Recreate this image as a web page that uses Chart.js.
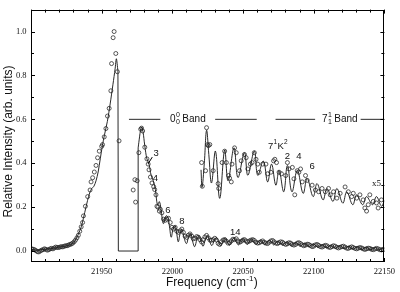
<!DOCTYPE html>
<html>
<head>
<meta charset="utf-8">
<script src="https://cdn.jsdelivr.net/npm/chart.js@4.4.0/dist/chart.umd.min.js"></script>
<style>
html, body { margin: 0; padding: 0; background: #fff; }
canvas { display: block; }
</style>
</head>
<body>
<canvas id="mycanvas" width="400" height="292"></canvas>
<script>
// tick labels
var xTickValues = [21950, 22000, 22050, 22100, 22150];
var yTickValues = [0.0, 0.2, 0.4, 0.6, 0.8, 1.0];

// 0-0 band, measured points (circles)
var expFreq = [21900.5, 21901.5, 21902.5, 21903.5, 21904.5, 21905.5, 21906.5, 21907.5, 21908.5, 21909.5,
  21910.5, 21911.5, 21912.5, 21913.5, 21914.5, 21915.5, 21916.5, 21917.5, 21918.5, 21919.5,
  21920.5, 21921.5, 21922.5, 21923.5, 21924.5, 21925.5, 21926.5, 21927.5, 21928.5, 21929.5,
  21930.5, 21931.5, 21932.5, 21933.5, 21934.5, 21935.5, 21936.5, 21937.1, 21938.5, 21940.1,
  21941.8, 21942.5, 21943.6, 21944.8, 21946.0, 21947.1, 21948.3, 21950.0, 21950.6, 21951.8,
  21953.0, 21954.1, 21955.3, 21956.5, 21957.0, 21958.1, 21958.8, 21960.0, 21961.1, 21962.3,
  21972.3, 21973.5, 21974.0, 21975.1, 21976.3,
  21977.6, 21978.2, 21979.0, 21980.5, 21982.0, 21982.9, 21983.5, 21984.5, 21985.6, 21986.8,
  21987.5, 21988.4, 21989.1, 21989.8, 21990.8, 21991.5, 21992.6, 21993.8, 21995.0, 21996.1,
  21997.3, 21998.5,
  21999.7, 22000.8, 22002.0, 22003.2, 22004.3, 22005.5, 22006.7, 22007.8, 22009.0, 22010.2,
  22011.3, 22012.5, 22013.7, 22014.8, 22016.0, 22017.2, 22018.3, 22019.5, 22020.7, 22021.9,
  22023.0, 22024.2, 22025.4, 22026.6, 22027.7, 22028.9, 22030.0, 22031.2, 22032.4, 22033.5,
  22034.7, 22035.9, 22037.0, 22038.2, 22039.4, 22040.6, 22041.7, 22042.9, 22044.0, 22045.2,
  22046.4, 22047.6, 22048.7, 22049.9, 22051.0, 22052.2, 22053.4, 22054.6, 22055.7, 22056.9,
  22058.0, 22059.2, 22060.4, 22061.5, 22062.7, 22063.9, 22065.0, 22066.2, 22067.4, 22068.5,
  22069.7, 22070.9, 22072.0, 22073.2, 22074.4, 22075.5, 22076.7, 22077.9, 22079.0, 22080.2,
  22081.4, 22082.5, 22083.7, 22084.9, 22086.0, 22087.2, 22088.4, 22089.5, 22090.7, 22091.9,
  22093.0, 22094.2, 22095.4, 22096.5, 22097.7, 22098.9, 22100.0, 22101.2, 22102.4, 22103.5,
  22104.7, 22105.9, 22107.0, 22108.2, 22109.4, 22110.5, 22111.7, 22112.9, 22114.0, 22115.2,
  22116.4, 22117.5, 22118.7, 22119.9, 22121.0, 22122.2, 22123.4, 22124.5, 22125.7, 22126.9,
  22128.0, 22129.2, 22130.4, 22131.5, 22132.7, 22133.9, 22135.0, 22136.2, 22137.4, 22138.6,
  22139.7, 22140.9, 22142.1, 22143.3, 22144.4, 22145.6, 22146.8, 22147.9, 22149.1];
var expInt = [0.010, 0.008, 0.006, 0.002, -0.003, -0.004, 0.000, 0.004, 0.006, 0.010,
  0.008, 0.004, 0.006, 0.010, 0.012, 0.010, 0.014, 0.018, 0.016, 0.016,
  0.018, 0.020, 0.019, 0.022, 0.024, 0.024, 0.027, 0.030, 0.032, 0.036,
  0.042, 0.050, 0.060, 0.072, 0.090, 0.110, 0.130, 0.160, 0.204, 0.248,
  0.278, 0.315, 0.334, 0.360, 0.390, 0.425, 0.455, 0.477, 0.485, 0.520,
  0.558, 0.615, 0.650, 0.730, 0.854, 0.972, 1.000, 0.900, 0.817, 0.502,
  0.278, 0.325, 0.223, 0.320, 0.448,
  0.555, 0.560, 0.547, 0.473, 0.420, 0.396, 0.370, 0.337, 0.310, 0.293,
  0.280, 0.256, 0.204, 0.200, 0.182, 0.190, 0.174, 0.145, 0.140, 0.145,
  0.149, 0.130,
  0.108, 0.100, 0.108, 0.090, 0.085, 0.092, 0.100, 0.085, 0.068, 0.062,
  0.072, 0.078, 0.068, 0.056, 0.058, 0.066, 0.063, 0.052, 0.041, 0.052,
  0.064, 0.071, 0.060, 0.050, 0.049, 0.052, 0.058, 0.050, 0.035, 0.030,
  0.042, 0.050, 0.052, 0.045, 0.036, 0.038, 0.046, 0.054, 0.052, 0.056,
  0.046, 0.040, 0.044, 0.050, 0.052, 0.046, 0.042, 0.046, 0.050, 0.052,
  0.048, 0.040, 0.036, 0.038, 0.042, 0.046, 0.040, 0.036, 0.034, 0.040,
  0.046, 0.048, 0.042, 0.036, 0.034, 0.038, 0.042, 0.040, 0.034, 0.030,
  0.033, 0.038, 0.036, 0.030, 0.027, 0.030, 0.036, 0.038, 0.034, 0.028,
  0.024, 0.027, 0.031, 0.030, 0.025, 0.020, 0.022, 0.028, 0.030, 0.026,
  0.020, 0.018, 0.022, 0.026, 0.024, 0.018, 0.016, 0.020, 0.024, 0.022,
  0.017, 0.014, 0.017, 0.020, 0.022, 0.018, 0.013, 0.012, 0.016, 0.019,
  0.016, 0.012, 0.010, 0.013, 0.016, 0.014, 0.010, 0.007, 0.010, 0.013,
  0.012, 0.008, 0.006, 0.009, 0.012, 0.010, 0.006, 0.005, 0.008];

// 0-0 band, simulation (solid line): rise, gap, decay
var simRiseFreq = [21900, 21904, 21908, 21912, 21916, 21920, 21924, 21927, 21929, 21931,
  21933, 21935, 21936, 21938, 21940, 21941.5, 21943, 21944.5, 21946, 21947.5,
  21949, 21950.5, 21952, 21954, 21956, 21958, 21959.5, 21960.4, 21961.5];
var simRiseInt = [0.008, 0.004, 0.007, 0.009, 0.013, 0.018, 0.022, 0.027, 0.033, 0.046,
  0.070, 0.100, 0.120, 0.175, 0.230, 0.265, 0.285, 0.295, 0.320, 0.360,
  0.420, 0.480, 0.530, 0.590, 0.670, 0.760, 0.830, 0.876, 0.820];

var gapFreq = [21961.5, 21961.8, 21975.8, 21975.8];
var gapInt = [0.820, 0.0, 0.0, 0.470];

var simDecayFreq = [21975.8, 21976.8, 21977.5, 21978.3, 21979.2, 21980.5, 21982.0, 21983.5, 21985.0, 21986.5,
  21988.0, 21989.5, 21990.8, 21992.0, 21993.6, 21995.5, 21996.8, 21998.0, 21999.2, 22000.5,
  22002.0, 22003.2, 22004.2, 22005.5, 22006.8, 22008.3, 22010.0, 22011.5, 22013.0, 22014.5,
  22015.8, 22017.5, 22019.0, 22020.5, 22021.8, 22023.5, 22025.0, 22026.5, 22028.0, 22029.8,
  22031.3, 22032.8, 22034.3, 22036.0, 22037.5, 22039.0, 22040.5, 22042.3, 22043.8, 22045.3,
  22046.8, 22048.5, 22050.0, 22051.5, 22053.0, 22054.8, 22056.3, 22057.8, 22059.3, 22061.0,
  22062.5, 22064.0, 22065.5, 22067.2, 22068.8, 22070.3, 22071.8, 22073.5, 22075.0, 22076.5,
  22078.0, 22079.7, 22081.2, 22082.7, 22084.2, 22086.0, 22087.5, 22089.0, 22090.5, 22092.2,
  22093.7, 22095.2, 22096.7, 22098.4, 22100.0, 22101.5, 22103.0, 22104.7, 22106.2, 22107.7,
  22109.2, 22111.0, 22112.5, 22114.0, 22115.5, 22117.2, 22118.7, 22120.2, 22121.7, 22123.4,
  22125.0, 22126.5, 22128.0, 22129.7, 22131.2, 22132.7, 22134.2, 22136.0, 22137.5, 22139.0,
  22140.5, 22142.2, 22143.7, 22145.2, 22146.7, 22148.4, 22150.0];
var simDecayInt = [0.470, 0.520, 0.550, 0.565, 0.545, 0.480, 0.420, 0.395, 0.345, 0.320,
  0.280, 0.210, 0.225, 0.190, 0.125, 0.160, 0.155, 0.110, 0.063, 0.100,
  0.115, 0.075, 0.042, 0.080, 0.100, 0.060, 0.034, 0.065, 0.080, 0.040,
  0.020, 0.055, 0.070, 0.040, 0.022, 0.055, 0.070, 0.042, 0.025, 0.050,
  0.062, 0.040, 0.024, 0.048, 0.060, 0.040, 0.026, 0.050, 0.058, 0.040,
  0.028, 0.048, 0.056, 0.040, 0.030, 0.046, 0.054, 0.040, 0.030, 0.044,
  0.050, 0.038, 0.029, 0.042, 0.048, 0.036, 0.028, 0.040, 0.045, 0.034,
  0.026, 0.037, 0.042, 0.031, 0.023, 0.034, 0.039, 0.029, 0.021, 0.031,
  0.036, 0.026, 0.019, 0.028, 0.033, 0.023, 0.016, 0.025, 0.030, 0.020,
  0.014, 0.022, 0.027, 0.018, 0.012, 0.020, 0.024, 0.016, 0.010, 0.018,
  0.022, 0.014, 0.009, 0.016, 0.020, 0.012, 0.007, 0.014, 0.018, 0.010,
  0.006, 0.012, 0.016, 0.009, 0.005, 0.010, 0.012];

// 7-1 band, x5 and offset (upper trace)
var insetExpFreq = [22020.7, 22021.2, 22023.5, 22024.2, 22024.9, 22025.5, 22026.5, 22028.9, 22032.4, 22032.8,
  22035.2, 22037.0, 22038.2, 22039.8, 22040.5, 22041.7, 22042.2, 22044.0, 22045.2, 22047.5,
  22048.7, 22051.0, 22052.2, 22053.4, 22055.2, 22056.4, 22058.0, 22059.2, 22060.4, 22061.5,
  22063.9, 22066.2, 22067.4, 22069.7, 22071.6, 22072.5, 22073.7, 22075.5, 22077.2, 22080.2,
  22081.4, 22082.5, 22084.9, 22086.0, 22086.6, 22088.4, 22089.5, 22090.7, 22091.9, 22094.2,
  22095.4, 22098.9, 22101.2, 22103.5, 22105.9, 22108.2, 22110.5, 22111.7, 22114.0, 22116.4,
  22118.7, 22122.2, 22124.5, 22126.9, 22128.0, 22130.4, 22132.7, 22135.0, 22136.2, 22137.4,
  22138.6, 22139.7, 22142.1, 22144.4, 22145.6, 22147.9];
var insetExpInt = [0.403, 0.295, 0.366, 0.562, 0.485, 0.480, 0.485, 0.366, 0.307, 0.285,
  0.403, 0.455, 0.403, 0.344, 0.332, 0.315, 0.396, 0.470, 0.448, 0.366,
  0.411, 0.440, 0.425, 0.374, 0.396, 0.403, 0.448, 0.418, 0.396, 0.359,
  0.396, 0.396, 0.352, 0.359, 0.411, 0.418, 0.403, 0.359, 0.352, 0.344,
  0.403, 0.374, 0.381, 0.329, 0.256, 0.366, 0.359, 0.374, 0.315, 0.344,
  0.322, 0.300, 0.278, 0.270, 0.285, 0.270, 0.285, 0.256, 0.270, 0.241,
  0.263, 0.292, 0.270, 0.248, 0.263, 0.241, 0.256, 0.233, 0.196, 0.182,
  0.211, 0.256, 0.226, 0.219, 0.196, 0.233];

var insetSimFreq = [22020.3, 22021.0, 22022.6, 22024.2, 22025.8, 22027.7, 22030.5, 22033.5, 22037.0, 22039.4,
  22043.6, 22046.4, 22051.0, 22053.4, 22058.0, 22060.4, 22064.4, 22067.4, 22070.2, 22073.2,
  22075.5, 22078.8, 22081.4, 22084.6, 22088.4, 22092.5, 22095.4, 22099.6, 22102.4, 22106.6,
  22109.4, 22113.6, 22116.4, 22120.6, 22123.4, 22127.6, 22130.4, 22134.6, 22137.4, 22141.6,
  22144.4, 22148.0, 22150.0];
var insetSimInt = [0.370, 0.290, 0.400, 0.550, 0.440, 0.310, 0.455, 0.240, 0.460, 0.320,
  0.470, 0.335, 0.448, 0.345, 0.455, 0.345, 0.410, 0.315, 0.396, 0.300,
  0.367, 0.270, 0.390, 0.270, 0.367, 0.263, 0.330, 0.248, 0.307, 0.233,
  0.285, 0.226, 0.285, 0.218, 0.270, 0.211, 0.256, 0.211, 0.248, 0.211,
  0.248, 0.204, 0.230];

// band marker segments at 0.6
var bandLevel = 0.6;
var bandSegments = [[21969.3, 21991.5], [22030.3, 22059.7], [22073.0, 22101.0], [22133.2, 22150.0]];

// peak numbers [text, freq, intensity]
var peakLabels = [['3', 21988.5, 0.445], ['4', 21988.0, 0.329], ['6', 21996.8, 0.186], ['8', 22006.7, 0.133],
  ['14', 22044.5, 0.086], ['2', 22081.4, 0.432], ['4', 22089.6, 0.432], ['6', 22098.9, 0.386]];

function pairs(xs, ys) {
  var out = [];
  for (var i = 0; i < xs.length; i++) out.push({x: xs[i], y: ys[i]});
  return out;
}

var bandData = [];
for (var i = 0; i < bandSegments.length; i++) {
  bandData.push({x: bandSegments[i][0], y: bandLevel});
  bandData.push({x: bandSegments[i][1], y: bandLevel});
  bandData.push({x: bandSegments[i][1] + 0.1, y: null});
}

function lineSet(data, tension) {
  return {
    data: data, showLine: true, borderColor: '#111', borderWidth: 0.9,
    pointRadius: 0, tension: tension, spanGaps: false
  };
}
function circleSet(data) {
  return {
    data: data, showLine: false, pointStyle: 'circle', pointRadius: 2,
    pointBorderWidth: 0.75, pointBorderColor: '#222', pointBackgroundColor: 'rgba(0,0,0,0)'
  };
}

function drawSubSup(ctx, main, sup, sub, rest, cx, cy, size) {
  var big = size + 'px "Liberation Sans", Arial, sans-serif';
  var small = Math.round(size * 0.68) + 'px "Liberation Sans", Arial, sans-serif';
  ctx.font = big; var w0 = ctx.measureText(main).width; var wr = ctx.measureText(rest).width;
  ctx.font = small; var ws = Math.max(ctx.measureText(sup).width, ctx.measureText(sub).width);
  var x = cx - (w0 + ws + wr) / 2;
  ctx.textAlign = 'left'; ctx.textBaseline = 'middle';
  ctx.font = big; ctx.fillText(main, x, cy);
  ctx.font = small;
  ctx.fillText(sup, x + w0 + 0.3, cy - 4);
  ctx.fillText(sub, x + w0 + 0.3, cy + 3);
  ctx.font = big; ctx.fillText(rest, x + w0 + ws, cy);
}

var decor = {
  id: 'decor',
  afterDraw: function(chart) {
    var ctx = chart.ctx, a = chart.chartArea;
    var sx = chart.scales.x, sy = chart.scales.y;
    ctx.save();
    ctx.strokeStyle = '#000';
    ctx.lineWidth = 1;
    ctx.strokeRect(Math.round(a.left) + 0.5, Math.round(a.top) + 0.5,
      Math.round(a.right - a.left) - 1, Math.round(a.bottom - a.top) - 1);
    ctx.beginPath();
    for (var v = 21900; v <= 22150; v += 10) {
      var px = Math.round(sx.getPixelForValue(v)) + 0.5;
      var len = (v % 50 === 0) ? 4 : 3;
      ctx.moveTo(px, a.bottom); ctx.lineTo(px, a.bottom - len);
      ctx.moveTo(px, a.top); ctx.lineTo(px, a.top + len);
    }
    for (var k = 0; k <= 11; k++) {
      var py = Math.round(sy.getPixelForValue(k / 10)) + 0.5;
      var l2 = (k % 2 === 0) ? 4 : 3;
      ctx.moveTo(a.left, py); ctx.lineTo(a.left + l2, py);
      ctx.moveTo(a.right, py); ctx.lineTo(a.right - l2, py);
    }
    // leader line for peak 3
    ctx.moveTo(sx.getPixelForValue(21982.9), sy.getPixelForValue(0.398));
    ctx.lineTo(sx.getPixelForValue(21985.8), sy.getPixelForValue(0.428));
    ctx.stroke();

    ctx.fillStyle = '#111';
    // peak numbers
    ctx.font = '9.5px "Liberation Sans", Arial, sans-serif';
    ctx.textAlign = 'center'; ctx.textBaseline = 'middle';
    peakLabels.forEach(function(p) {
      ctx.fillText(p[0], sx.getPixelForValue(p[1]), sy.getPixelForValue(p[2]));
    });
    // x5
    ctx.font = '9px "Liberation Serif", "Times New Roman", serif';
    ctx.fillText('x5', sx.getPixelForValue(22144.5), sy.getPixelForValue(0.307));

    // band labels
    drawSubSup(ctx, '0', '0', '0', ' Band', sx.getPixelForValue(22011.0), sy.getPixelForValue(bandLevel), 10);
    drawSubSup(ctx, '7', '1', '1', ' Band', sx.getPixelForValue(22118.5), sy.getPixelForValue(bandLevel), 10);

    // 7^1 K^2
    var kx = sx.getPixelForValue(22067.6), ky = sy.getPixelForValue(0.478);
    ctx.textAlign = 'left';
    ctx.font = '9.5px "Liberation Sans", Arial, sans-serif';
    ctx.fillText('7', kx, ky);
    var w7 = ctx.measureText('7').width;
    ctx.font = '6.5px "Liberation Sans", Arial, sans-serif';
    ctx.fillText('1', kx + w7 + 0.3, ky - 3.5);
    var w1 = ctx.measureText('1').width;
    ctx.font = '9.5px "Liberation Sans", Arial, sans-serif';
    ctx.fillText('K', kx + w7 + w1 + 0.6, ky);
    var wk = ctx.measureText('K').width;
    ctx.font = '6.5px "Liberation Sans", Arial, sans-serif';
    ctx.fillText('2', kx + w7 + w1 + wk + 0.9, ky - 3.5);

    // axis titles
    ctx.font = '12px "Liberation Sans", Arial, sans-serif';
    ctx.textAlign = 'center'; ctx.textBaseline = 'middle';
    ctx.save();
    ctx.translate(8.5, 141.5);
    ctx.rotate(-Math.PI / 2);
    ctx.fillText('Relative Intensity (arb. units)', 0, 0);
    ctx.restore();

    var t1 = 'Frequency (cm', t2 = '-1', t3 = ')';
    ctx.font = '12px "Liberation Sans", Arial, sans-serif';
    var a1 = ctx.measureText(t1).width, a3 = ctx.measureText(t3).width;
    ctx.font = '8px "Liberation Sans", Arial, sans-serif';
    var a2 = ctx.measureText(t2).width;
    var tx = 211.5 - (a1 + a2 + a3) / 2, ty = 283;
    ctx.textAlign = 'left';
    ctx.font = '12px "Liberation Sans", Arial, sans-serif';
    ctx.fillText(t1, tx, ty);
    ctx.font = '8px "Liberation Sans", Arial, sans-serif';
    ctx.fillText(t2, tx + a1 + 0.3, ty - 4.5);
    ctx.font = '12px "Liberation Sans", Arial, sans-serif';
    ctx.fillText(t3, tx + a1 + a2 + 0.6, ty);
    ctx.restore();
  }
};

var ctx = document.getElementById('mycanvas');

var spectrum = new Chart(ctx, {
  type: 'scatter',
  data: {
    datasets: [
      circleSet(pairs(expFreq, expInt)),
      circleSet(pairs(insetExpFreq, insetExpInt)),
      lineSet(pairs(simRiseFreq, simRiseInt), 0.3),
      lineSet(pairs(gapFreq, gapInt), 0),
      lineSet(pairs(simDecayFreq, simDecayInt), 0.4),
      lineSet(pairs(insetSimFreq, insetSimInt), 0.4),
      lineSet(bandData, 0)
    ]
  },
  options: {
    responsive: false,
    animation: false,
    devicePixelRatio: 1,
    layout: { padding: { top: 3, right: 13, left: 0, bottom: 0 } },
    plugins: { legend: { display: false }, tooltip: { enabled: false } },
    scales: {
      x: {
        type: 'linear', min: 21900, max: 22150,
        grid: { display: false, drawTicks: false },
        border: { display: false },
        afterBuildTicks: function(s) { s.ticks = xTickValues.map(function(v) { return {value: v}; }); },
        afterFit: function(s) { s.height = 30; },
        ticks: {
          autoSkip: false, maxRotation: 0, padding: 5, color: '#111',
          font: { family: '"Liberation Serif", "Times New Roman", serif', size: 8.5 },
          callback: function(v) { return String(v); }
        }
      },
      y: {
        type: 'linear', min: -0.05, max: 1.1,
        grid: { display: false, drawTicks: false },
        border: { display: false },
        afterBuildTicks: function(s) { s.ticks = yTickValues.map(function(v) { return {value: v}; }); },
        afterFit: function(s) { s.width = 31; },
        ticks: {
          padding: 4.5, color: '#111',
          font: { family: '"Liberation Serif", "Times New Roman", serif', size: 8.5 },
          callback: function(v) { return Number(v).toFixed(1); }
        }
      }
    }
  },
  plugins: [decor]
});
</script>
</body>
</html>
